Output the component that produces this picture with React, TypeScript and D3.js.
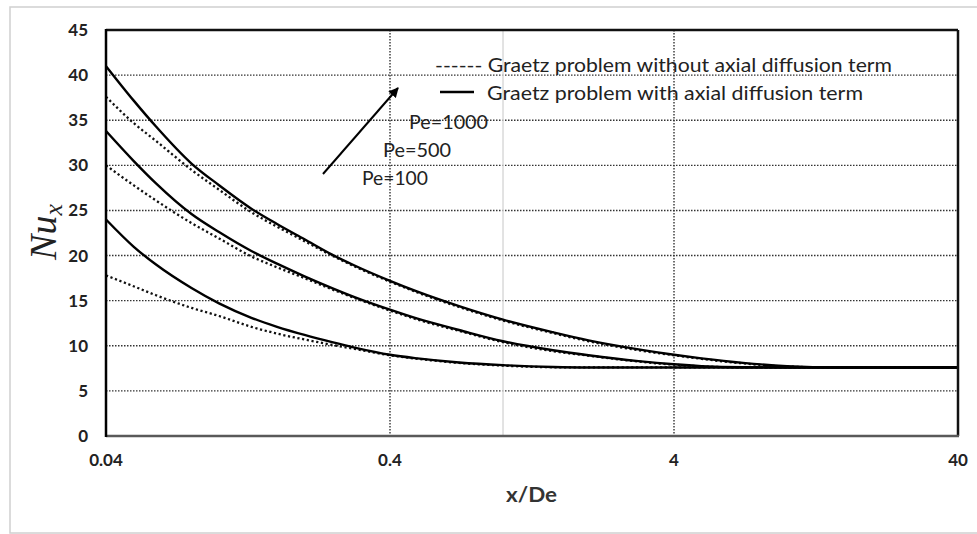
import React from "react";
import * as d3 from "d3";

const xPoints = [0.04, 0.05, 0.06, 0.08, 0.1, 0.13, 0.16, 0.2, 0.25, 0.3, 0.4, 0.5, 0.7, 1, 1.5, 2, 3, 4, 5, 7, 10, 15, 20, 30, 40];

const pe1000With = [41, 37.2, 34.3, 30.2, 27.8, 25.2, 23.5, 21.8, 20.1, 18.9, 17.2, 16.0, 14.4, 12.9, 11.5, 10.6, 9.6, 9.0, 8.6, 8.1, 7.75, 7.6, 7.6, 7.6, 7.6];
const pe1000Without = [37.6, 34.7, 32.7, 29.5, 27.3, 24.8, 23.2, 21.6, 20.0, 18.8, 17.1, 15.9, 14.3, 12.8, 11.4, 10.5, 9.5, 8.95, 8.55, 8.05, 7.7, 7.6, 7.6, 7.6, 7.6];
const pe500With = [33.8, 30.5, 28.0, 24.6, 22.6, 20.5, 19.1, 17.7, 16.4, 15.4, 14.0, 13.0, 11.75, 10.5, 9.5, 8.95, 8.3, 7.95, 7.75, 7.62, 7.6, 7.6, 7.6, 7.6, 7.6];
const pe500Without = [30.0, 27.8, 26.1, 23.6, 21.9, 19.9, 18.7, 17.5, 16.25, 15.3, 13.9, 12.9, 11.65, 10.4, 9.4, 8.9, 8.25, 7.9, 7.72, 7.6, 7.6, 7.6, 7.6, 7.6, 7.6];
const pe100With = [24, 21.0, 19.0, 16.4, 14.7, 13.1, 12.1, 11.2, 10.4, 9.8, 9.0, 8.6, 8.15, 7.85, 7.65, 7.6, 7.6, 7.6, 7.6, 7.6, 7.6, 7.6, 7.6, 7.6, 7.6];
const pe100Without = [17.8, 16.6, 15.6, 14.2, 13.3, 12.1, 11.35, 10.7, 10.1, 9.65, 8.95, 8.55, 8.1, 7.8, 7.62, 7.6, 7.6, 7.6, 7.6, 7.6, 7.6, 7.6, 7.6, 7.6, 7.6];

const yTicks = [0, 5, 10, 15, 20, 25, 30, 35, 40, 45];
const xTicks = [0.04, 0.4, 4, 40];
const xTickLabels = ["0.04", "0.4", "4", "40"];
const peLabels = ["Pe=1000", "Pe=500", "Pe=100"];
const legendLabels = ["------ Graetz problem without axial diffusion term", "Graetz problem with axial diffusion term"];

const W = 977;
const H = 534;
const left = 106, right = 958, top = 30, bottom = 436;

export default function App() {
  const x = d3.scaleLog().domain([0.04, 40]).range([left, right]);
  const y = d3.scaleLinear().domain([0, 45]).range([bottom, top]);
  const line = d3
    .line<number>()
    .x((_, i) => x(xPoints[i]))
    .y((d) => y(d))
    .curve(d3.curveMonotoneX);

  const solid = [pe1000With, pe500With, pe100With];
  const dotted = [pe1000Without, pe500Without, pe100Without];
  const tickFont = "Lato, 'Open Sans', sans-serif";

  return (
    <svg width={W} height={H} style={{ position: "absolute", left: 0, top: 0 }} xmlns="http://www.w3.org/2000/svg">
      <rect x={0} y={0} width={W} height={H} fill="#fff" />
      <rect x={10} y={7} width={W} height={526} fill="#fff" stroke="#d0d0d0" strokeWidth={1.5} />
      {/* horizontal grid */}
      {yTicks.filter((t) => t > 0 && t < 45).map((t) => (
        <line key={"hg" + t} x1={left} x2={right} y1={y(t)} y2={y(t)} stroke="#333" strokeWidth={1.4} strokeDasharray="1.5,1.5" />
      ))}
      {/* minor gray line at 1 */}
      <line x1={x(1)} x2={x(1)} y1={top} y2={bottom} stroke="#d9d9d9" strokeWidth={1.5} />
      {/* vertical grid */}
      {[0.4, 4].map((t) => (
        <line key={"vg" + t} x1={x(t)} x2={x(t)} y1={top} y2={bottom} stroke="#333" strokeWidth={1.4} strokeDasharray="1.5,1.5" />
      ))}
      {/* curves */}
      {dotted.map((s, i) => (
        <path key={"d" + i} d={line(s) || ""} fill="none" stroke="#111" strokeWidth={2.3} strokeDasharray="2.2,2.6" />
      ))}
      {solid.map((s, i) => (
        <path key={"s" + i} d={line(s) || ""} fill="none" stroke="#000" strokeWidth={2.4} />
      ))}
      {/* frame */}
      <line x1={left} x2={right} y1={top} y2={top} stroke="#111" strokeWidth={2.5} />
      <line x1={right} x2={right} y1={top} y2={bottom} stroke="#111" strokeWidth={2.5} />
      <line x1={left} x2={right + 1} y1={bottom} y2={bottom} stroke="#595959" strokeWidth={2.5} />
      <line x1={left} x2={left} y1={top - 1} y2={bottom + 1} stroke="#000" strokeWidth={2.5} />
      {/* y tick labels */}
      {yTicks.map((t) => (
        <text key={"yt" + t} x={88} y={y(t) + 6} textAnchor="end" fontFamily={tickFont} fontWeight="bold" fontSize={17} fill="#222">
          {t}
        </text>
      ))}
      {/* x tick labels */}
      {xTicks.map((t, i) => (
        <text key={"xt" + t} x={x(t)} y={466} textAnchor="middle" fontFamily={tickFont} fontWeight="bold" fontSize={17} fill="#222">
          {xTickLabels[i]}
        </text>
      ))}
      {/* axis titles */}
      <text x={506} y={502} fontFamily={tickFont} fontWeight="bold" fontSize={20} fill="#333" textLength={51} lengthAdjust="spacingAndGlyphs">
        x/De
      </text>
      <text transform="translate(56,232) rotate(-90)" textAnchor="middle" fontFamily="'Liberation Serif', 'DejaVu Serif', serif" fontStyle="italic" fontSize={38} fill="#222">
        Nu<tspan fontSize={26} dy={6}>x</tspan>
      </text>
      {/* legend */}
      <text x={435} y={72} fontFamily={tickFont} fontSize={19} fill="#222" textLength={457} lengthAdjust="spacingAndGlyphs">
        {legendLabels[0]}
      </text>
      <line x1={440} x2={474} y1={92} y2={92} stroke="#000" strokeWidth={2.5} />
      <text x={487} y={100} fontFamily={tickFont} fontSize={19} fill="#222" textLength={376} lengthAdjust="spacingAndGlyphs">
        {legendLabels[1]}
      </text>
      {/* Pe labels */}
      <text x={409} y={129} fontFamily={tickFont} fontSize={19} fill="#222" textLength={79} lengthAdjust="spacingAndGlyphs">{peLabels[0]}</text>
      <text x={383} y={157} fontFamily={tickFont} fontSize={19} fill="#222" textLength={68} lengthAdjust="spacingAndGlyphs">{peLabels[1]}</text>
      <text x={362} y={185} fontFamily={tickFont} fontSize={19} fill="#222" textLength={66} lengthAdjust="spacingAndGlyphs">{peLabels[2]}</text>
      {/* arrow */}
      <defs>
        <marker id="ah" viewBox="0 0 10 10" refX={9} refY={5} markerWidth={5} markerHeight={5} orient="auto" markerUnits="strokeWidth">
          <path d="M0,0 L10,5 L0,10 z" fill="#000" />
        </marker>
      </defs>
      <line x1={323} y1={174} x2={398} y2={88} stroke="#000" strokeWidth={2} markerEnd="url(#ah)" />
    </svg>
  );
}
